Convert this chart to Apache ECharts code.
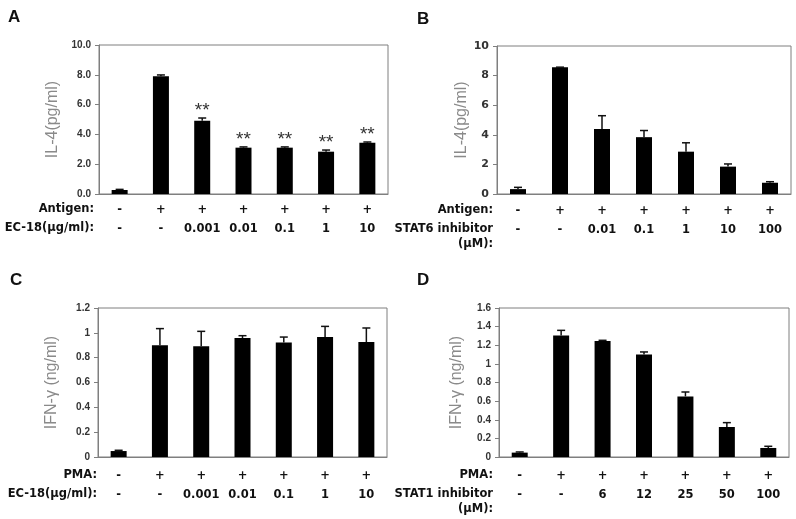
<!DOCTYPE html>
<html>
<head>
<meta charset="utf-8">
<script src="https://cdn.jsdelivr.net/npm/echarts@6/dist/echarts.min.js"></script>
<style>
html,body{margin:0;padding:0;background:#fff;}
#chart{width:796px;height:519px;}
</style>
</head>
<body>
<div id="chart"></div>
<script>
// ---------- Panel A ----------
const A_row1 = ['-', '+', '+', '+', '+', '+', '+'];
const A_row2 = ['-', '-', '0.001', '0.01', '0.1', '1', '10'];
const A_values = [0.27, 7.9, 4.92, 3.11, 3.11, 2.84, 3.44];
const A_errors = [0.04, 0.09, 0.18, 0.05, 0.05, 0.11, 0.05];
const A_sig = ['', '', '**', '**', '**', '**', '**'];
const A_rowLabels = ['Antigen:', 'EC-18(\u03bcg/ml):'];
const A_yTicks = [0, 2, 4, 6, 8, 10];

// ---------- Panel B ----------
const B_row1 = ['-', '+', '+', '+', '+', '+', '+'];
const B_row2 = ['-', '-', '0.01', '0.1', '1', '10', '100'];
const B_values = [0.33, 8.57, 4.4, 3.84, 2.86, 1.85, 0.76];
const B_errors = [0.12, 0, 0.89, 0.45, 0.6, 0.18, 0.07];
const B_sig = ['', '', '', '', '', '', ''];
const B_rowLabels = ['Antigen:', 'STAT6 inhibitor', '(\u03bcM):'];
const B_yTicks = [0, 2, 4, 6, 8, 10];

// ---------- Panel C ----------
const C_row1 = ['-', '+', '+', '+', '+', '+', '+'];
const C_row2 = ['-', '-', '0.001', '0.01', '0.1', '1', '10'];
const C_values = [0.048, 0.899, 0.891, 0.958, 0.923, 0.966, 0.926];
const C_errors = [0.006, 0.135, 0.121, 0.019, 0.043, 0.086, 0.113];
const C_sig = ['', '', '', '', '', '', ''];
const C_rowLabels = ['PMA:', 'EC-18(\u03bcg/ml):'];
const C_yTicks = [0, 0.2, 0.4, 0.6, 0.8, 1, 1.2];

// ---------- Panel D ----------
const D_row1 = ['-', '+', '+', '+', '+', '+', '+'];
const D_row2 = ['-', '-', '6', '12', '25', '50', '100'];
const D_values = [0.047, 1.306, 1.246, 1.102, 0.651, 0.322, 0.097];
const D_errors = [0.007, 0.054, 0.007, 0.026, 0.047, 0.047, 0.018];
const D_sig = ['', '', '', '', '', '', ''];
const D_rowLabels = ['PMA:', 'STAT1 inhibitor', '(\u03bcM):'];
const D_yTicks = [0, 0.2, 0.4, 0.6, 0.8, 1, 1.2, 1.4, 1.6];

const panelLetters = ['A', 'B', 'C', 'D'];
const yTitles = ['IL-4(pg/ml)', 'IL-4(pg/ml)', 'IFN-\u03b3 (ng/ml)', 'IFN-\u03b3 (ng/ml)'];

const panels = [
  {row1: A_row1, row2: A_row2, values: A_values, errors: A_errors, sig: A_sig, rowLabels: A_rowLabels, ticks: A_yTicks,
   grid: {left: 99, top: 45, width: 289, height: 149}, fmt: v => v.toFixed(1), tickFont: {fontFamily: 'Liberation Sans', fontSize: 10}, labelMargin: 7, rowX: 94, letter: [8, 9], nameGap: 38},
  {row1: B_row1, row2: B_row2, values: B_values, errors: B_errors, sig: B_sig, rowLabels: B_rowLabels, ticks: B_yTicks,
   grid: {left: 497, top: 46, width: 294, height: 148}, fmt: v => String(v), tickFont: {fontFamily: 'DejaVu Sans', fontSize: 11}, labelMargin: 8, rowX: 493, letter: [417, 11], nameGap: 27},
  {row1: C_row1, row2: C_row2, values: C_values, errors: C_errors, sig: C_sig, rowLabels: C_rowLabels, ticks: C_yTicks,
   grid: {left: 98, top: 308, width: 289, height: 149}, fmt: v => String(+v.toFixed(1)), tickFont: {fontFamily: 'Liberation Sans', fontSize: 10}, labelMargin: 10, rowX: 97, letter: [10, 272], nameGap: 38},
  {row1: D_row1, row2: D_row2, values: D_values, errors: D_errors, sig: D_sig, rowLabels: D_rowLabels, ticks: D_yTicks,
   grid: {left: 499, top: 308, width: 290, height: 149}, fmt: v => String(+v.toFixed(1)), tickFont: {fontFamily: 'Liberation Sans', fontSize: 10}, labelMargin: 10, rowX: 493, letter: [417, 272], nameGap: 34}
];

const gridColor = '#7f7f7f';
const option = {
  animation: false,
  backgroundColor: '#ffffff',
  grid: [], xAxis: [], yAxis: [], series: [], graphic: []
};

panels.forEach((p, k) => {
  const ticks = p.ticks;
  const interval = +(ticks[1] - ticks[0]).toFixed(4);
  option.grid.push(Object.assign({show: true, borderColor: gridColor, borderWidth: 1, containLabel: false}, p.grid));
  option.xAxis.push({
    type: 'category', gridIndex: k, data: p.row2.map((_, i) => String(i)),
    axisLine: {lineStyle: {color: gridColor}}, axisTick: {show: false},
    axisLabel: {
      interval: 0, margin: p.labelMargin, lineHeight: 19,
      fontFamily: 'DejaVu Sans', fontWeight: 'bold', fontSize: 11.5, color: '#111',
      formatter: (v, i) => p.row1[i] + '\n' + p.row2[i]
    }
  });
  option.yAxis.push({
    type: 'value', gridIndex: k, min: ticks[0], max: ticks[ticks.length - 1], interval: interval,
    name: yTitles[k], nameLocation: 'middle', nameGap: p.nameGap,
    nameTextStyle: {fontFamily: 'Liberation Sans', fontSize: 16, color: '#8a8a8a'},
    splitLine: {show: false},
    axisLine: {show: true, lineStyle: {color: gridColor}},
    axisTick: {show: true, length: 4, lineStyle: {color: gridColor}},
    axisLabel: Object.assign({margin: 8, fontWeight: 'bold', color: '#333', formatter: p.fmt}, p.tickFont)
  });
  option.series.push({
    type: 'bar', xAxisIndex: k, yAxisIndex: k, barWidth: 16,
    itemStyle: {color: '#000'}, data: p.values, z: 2
  });
  option.series.push({
    type: 'custom', xAxisIndex: k, yAxisIndex: k, z: 3,
    data: p.values.map((v, i) => [i, v, p.errors[i]]),
    renderItem: (params, api) => {
      const i = params.dataIndex;
      const x = api.value(0), v = api.value(1), e = api.value(2);
      const base = api.coord([x, v]);
      const top = api.coord([x, v + e]);
      const children = [];
      const style = {stroke: '#111', lineWidth: 1.5};
      children.push({type: 'line', shape: {x1: base[0], y1: base[1], x2: top[0], y2: top[1]}, style: style});
      children.push({type: 'line', shape: {x1: top[0] - 4, y1: top[1], x2: top[0] + 4, y2: top[1]}, style: style});
      if (p.sig[i]) {
        children.push({type: 'text', x: top[0], y: top[1] + 2,
          style: {text: p.sig[i], fill: '#333', font: '19px "Liberation Sans"', textAlign: 'center', textVerticalAlign: 'bottom'}});
      }
      return {type: 'group', children: children};
    }
  });
  // left row labels
  const gBottom = p.grid.top + p.grid.height;
  p.rowLabels.forEach((t, r) => {
    option.graphic.push({
      type: 'text', x: p.rowX, y: gBottom + p.labelMargin + 8 + 19 * r - (r === 2 ? 4 : 0),
      style: {text: t, fill: '#111', font: 'bold 11.5px "DejaVu Sans"', textAlign: 'right', textVerticalAlign: 'middle'}
    });
  });
  option.graphic.push({
    type: 'text', x: p.letter[0], y: p.letter[1],
    style: {text: panelLetters[k], fill: '#111', font: 'bold 17px "Liberation Sans"', textAlign: 'left', textVerticalAlign: 'top'}
  });
});

const chart = echarts.init(document.getElementById('chart'), null, {renderer: 'canvas'});
chart.setOption(option);
</script>
</body>
</html>
